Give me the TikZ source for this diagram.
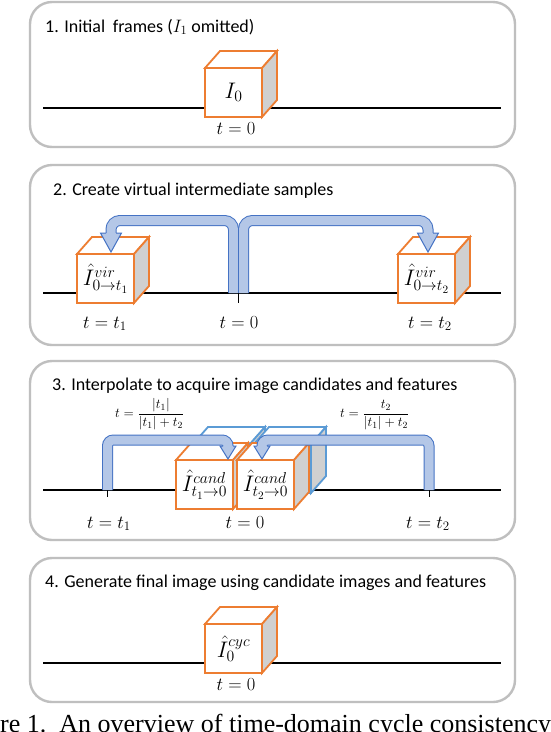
\RequirePackage{fix-cm}
\documentclass[tikz,border=0pt]{standalone}
\usepackage[no-math]{fontspec}
\setmainfont{Carlito}
\newfontfamily\capfont{Liberation Serif}
\definecolor{panelgray}{HTML}{BFBFBF}
\definecolor{cubeorange}{HTML}{ED7D31}
\definecolor{cubeblue}{HTML}{5B9BD5}
\definecolor{sidegray}{HTML}{D0D0D0}
\definecolor{arrowline}{HTML}{4472C4}
\definecolor{arrowfillc}{HTML}{B4C7E7}
\tikzset{
  panel/.style={draw=panelgray, line width=2.4pt, rounded corners=22pt},
  tline/.style={line width=1.8pt, black},
  tick/.style={line width=0.6pt, black},
  titletext/.style={anchor=base west, inner sep=0pt, font=\fontsize{18}{20}\selectfont},
  tlabel/.style={anchor=base, inner sep=0pt, font=\fontsize{18.5}{20}\selectfont},
  cubefront/.style={line width=1.8pt, fill=white, minimum width=57pt, minimum height=49pt,
     inner sep=0pt, outer sep=0pt, anchor=north west, font=\fontsize{22.5}{24}\selectfont},
  cubeedge/.style={line width=1.8pt, line join=miter},
  bandout/.style={line width=11pt, draw=arrowline},
  bandin/.style={line width=9pt, draw=arrowfillc},
  headline/.style={line width=1pt, draw=arrowline, line join=miter},
  formula/.style={anchor=west, inner sep=0pt, font=\fontsize{13.5}{15}\selectfont},
}
\newcommand\mycube[5]{%
  \node[cubefront, draw=#4] (#1) at (#2,#3) {#5};
  \draw[cubeedge, draw=#4, fill=white] (#1.north west) -- ++(15,-17) -- ++(57,0) -- (#1.north east) -- cycle;
  \draw[cubeedge, draw=#4, fill=sidegray] (#1.north east) -- ++(15,-17) -- ++(0,49) -- (#1.south east) -- cycle;
}
% #1 name, #2 start x, #3 start y, #4 band y, #5 end x, #6 head base y, #7 tip y, #8 head half width, #9 radius
\newcommand\bentarrow[9]{%
  \coordinate (#1s) at (#2,#3);
  \coordinate (#1c) at (#5,#4);
  \coordinate (#1e) at (#5,{#6+1});
  \coordinate (#1t) at (#5,#7);
  \draw[bandout, rounded corners=#9] (#1s) |- (#1c) -- (#1e);
  \draw[bandin, rounded corners=#9] (#1s) |- (#1c) -- (#1e);
  \fill[arrowfillc] ({#5-#8},#6) -- (#1t) -- ({#5+#8},#6) -- cycle;
  \draw[headline] ({#5-5},#6) -- ({#5-#8},#6) -- (#1t) -- ({#5+#8},#6) -- ({#5+5},#6);
}
\begin{document}
\begin{tikzpicture}[x=1pt,y=-1pt]
\useasboundingbox (0,0) rectangle (550,732);
\fill[white] (0,0) rectangle (550,732);

% ---------- Panel 1
\draw[panel] (30,2) rectangle (515,147);
\node[titletext] (t1) at (45,32) {1. Initial\hspace{0.2em} frames ($I_1$ omitted)};
\draw[tline] (43,108) -- (501,108);
\mycube{c1}{205}{68}{cubeorange}{$I_0$}
\node[tlabel] (l1) at (236,134) {$t=0$};

% ---------- Panel 2
\draw[panel] (30,165) rectangle (515,345);
\node[titletext] (t2) at (53,195) {2. Create virtual intermediate samples};
\draw[tline] (43,293) -- (501,293);
\mycube{c2a}{77}{254}{cubeorange}{$\hat{I}^{vir}_{0\to t_1}$}
\mycube{c2b}{398}{254}{cubeorange}{$\hat{I}^{vir}_{0\to t_2}$}
\bentarrow{a2l}{233.5}{293}{220.5}{111}{233}{252}{10.5}{9pt}
\bentarrow{a2r}{243.5}{293}{220.5}{428}{233}{252}{10.5}{9pt}
\draw[tick] (a2ls) ++(5,0) coordinate (tk2) -- ++(0,10);
\node[tlabel] (l2a) at (105,328) {$t=t_1$};
\node[tlabel] (l2b) at (239,328) {$t=0$};
\node[tlabel] (l2c) at (430,328) {$t=t_2$};

% ---------- Panel 3
\draw[panel] (30,361) rectangle (515,540);
\node[titletext] (t3) at (52,390) {3. Interpolate to acquire image candidates and features};
\draw[tline] (43,490) -- (501,490);
\mycube{b3a}{193}{444}{cubeblue}{}
\mycube{b3b}{254}{444}{cubeblue}{}
\mycube{c3a}{176}{460}{cubeorange}{$\hat{I}^{cand}_{t_1\to 0}$}
\mycube{c3b}{237}{460}{cubeorange}{$\hat{I}^{cand}_{t_2\to 0}$}
\bentarrow{a3l}{107.5}{490}{440}{228}{446}{459}{8}{6pt}
\bentarrow{a3r}{429}{490}{440}{262}{446}{459}{8}{6pt}
\draw[tick] (a3ls) -- ++(0,7);
\draw[tick] (a3rs) -- ++(0,7);
\node[formula] (f1) at (115,414) {$t=\displaystyle\frac{|t_1|}{|t_1|+t_2}$};
\node[formula] (f2) at (340,415) {$t=\displaystyle\frac{t_2}{|t_1|+t_2}$};
\node[tlabel] (l3a) at (109,528) {$t=t_1$};
\node[tlabel] (l3b) at (245,528) {$t=0$};
\node[tlabel] (l3c) at (428,528) {$t=t_2$};

% ---------- Panel 4
\draw[panel] (30,558) rectangle (515,702);
\node[titletext] (t4) at (45,587) {4. Generate final image using candidate images and features};
\draw[tline] (43,663) -- (501,663);
\mycube{c4}{205}{624}{cubeorange}{$\hat{I}^{cyc}_{0}$}
\node[tlabel] (l4) at (236,690) {$t=0$};

% ---------- caption fragment
\node[anchor=base west, inner sep=0pt, font=\capfont\fontsize{26}{28}\selectfont] (cap) at (0,732)
  {re 1.\ \ An overview of time-domain cycle consistency};
\end{tikzpicture}
\end{document}
